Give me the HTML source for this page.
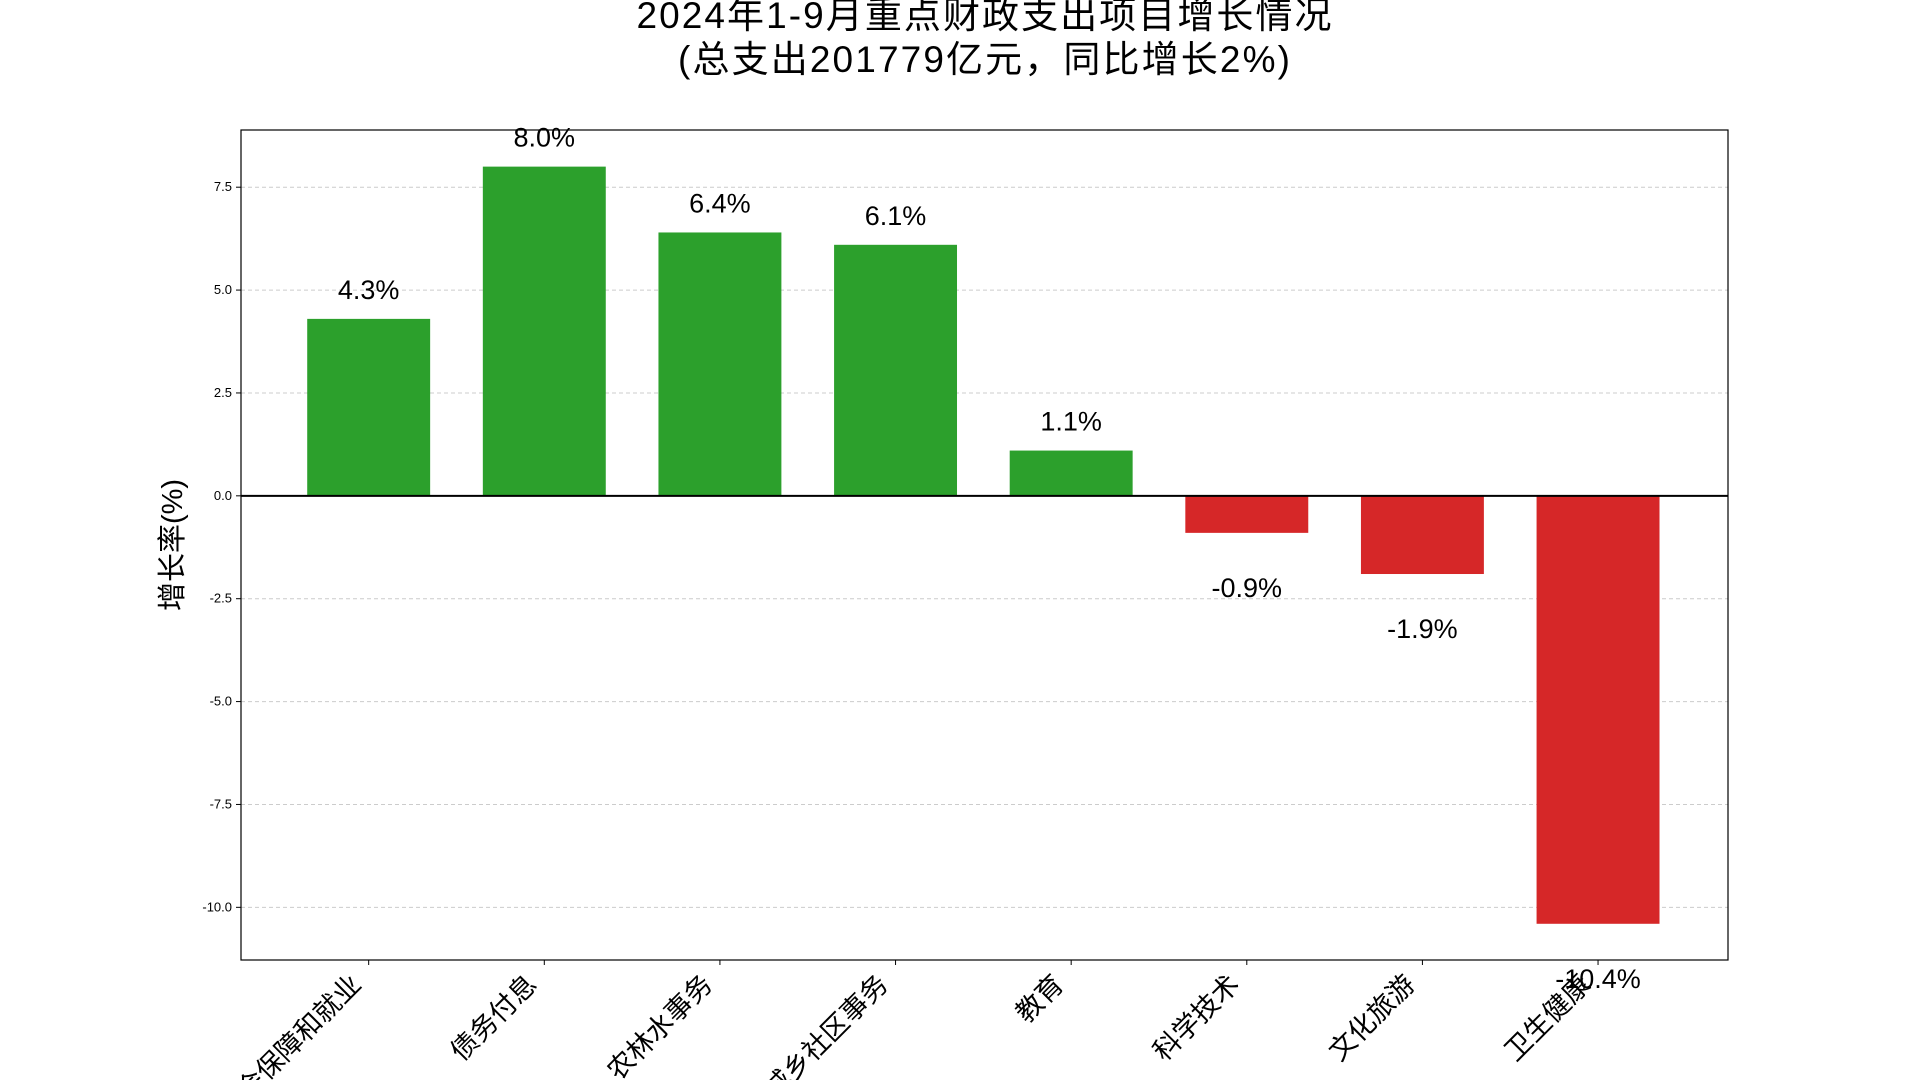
<!DOCTYPE html>
<html><head><meta charset="utf-8"><style>
html,body{margin:0;padding:0;background:#fff;width:1920px;height:1080px;overflow:hidden}
text{font-family:"Liberation Sans","Noto Sans CJK SC",sans-serif}
</style></head><body>
<svg id="chart" width="1920" height="1080" xmlns="http://www.w3.org/2000/svg">
<text x="984" y="28" font-size="37" text-anchor="middle" textLength="695">2024年1-9月重点财政支出项目增长情况</text>
<text x="984" y="72" font-size="37" text-anchor="middle" textLength="612">(总支出201779亿元，同比增长2%)</text>
<g id="grid"></g><g id="bars"></g><g id="labels"></g>
<rect x="241" y="130" width="1487" height="830" fill="none" stroke="#000" stroke-width="1.2"/>
<text transform="translate(182,545) rotate(-90)" font-size="29" text-anchor="middle">增长率(%)</text>
</svg>
<script>
const categories=["社会保障和就业","债务付息","农林水事务","城乡社区事务","教育","科学技术","文化旅游","卫生健康"];
const values=[4.3,8.0,6.4,6.1,1.1,-0.9,-1.9,-10.4];
const yTicks=[-10.0,-7.5,-5.0,-2.5,0.0,2.5,5.0,7.5];
const NS="http://www.w3.org/2000/svg";
const L=241,R=1728,T=130,B=960,yMin=-11.28,yMax=8.89,xMin=-0.727,xMax=7.74;
const y=v=>T+(yMax-v)/(yMax-yMin)*(B-T);
const x=i=>L+(i-xMin)/(xMax-xMin)*(R-L);
const bw=0.7*(x(1)-x(0));
function mk(t,a,p){const e=document.createElementNS(NS,t);for(const k in a)e.setAttribute(k,a[k]);p.appendChild(e);return e;}
const grid=document.getElementById('grid'),bars=document.getElementById('bars'),labels=document.getElementById('labels');
yTicks.forEach(v=>{
 const g=mk('line',{x1:L,x2:R,y1:y(v),y2:y(v),stroke:'#ccc','stroke-dasharray':'4,3','stroke-width':1},grid);
 
 
 mk('line',{x1:L-5,x2:L,y1:y(v),y2:y(v),stroke:'#000'},grid);
 const t=mk('text',{x:L-9,y:y(v)+4,'font-size':13,'text-anchor':'end'},grid);
 t.textContent=v.toFixed(1);
 
 
});
values.forEach((v,i)=>{
 const cx=x(i),top=y(Math.max(v,0)),bot=y(Math.min(v,0));
 const r=mk('rect',{x:cx-bw/2,y:top,width:bw,height:bot-top,fill:v>=0?'#2ca02c':'#d62728'},bars);
 
 
 const t=mk('text',{x:cx,y:v>=0?y(v)-20:y(v)+64,'font-size':27,'text-anchor':'middle'},labels);
 t.textContent=v.toFixed(1)+'%';
 
 
 mk('line',{x1:cx,x2:cx,y1:B,y2:B+5,stroke:'#000'},labels);
 const c=mk('text',{transform:`translate(${cx-6},${B+26}) rotate(-45)`,'font-size':27,'text-anchor':'end'},labels);
 c.textContent=categories[i];
 
 
});
const z=mk('line',{x1:L,x2:R,y1:y(0),y2:y(0),stroke:'#000','stroke-width':2},labels);


</script>
</body></html>
